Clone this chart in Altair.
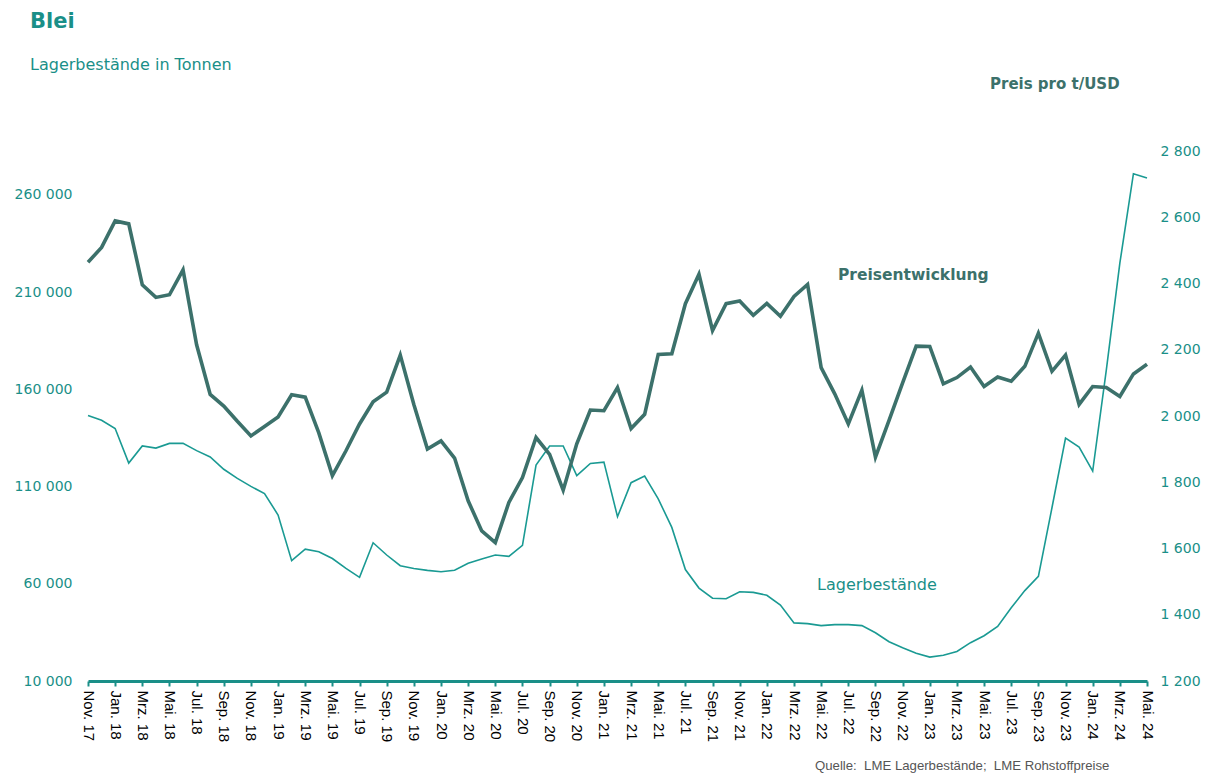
import altair as alt
import pandas as pd

months_de = ["Jan.", "Feb.", "Mrz.", "Apr.", "Mai.", "Jun.", "Jul.", "Aug.", "Sep.", "Okt.", "Nov.", "Dez."]

# Monthly labels Nov. 17 .. Mai. 24
labels = []
y, m = 2017, 11
while (y, m) <= (2024, 5):
    labels.append(f"{months_de[m-1]} {str(y)[2:]}")
    m += 1
    if m > 12:
        m, y = 1, y + 1

price = [2464, 2509, 2589, 2580, 2396, 2358, 2366, 2441, 2215, 2065,
         2030, 1984, 1940, 1968, 1997, 2064, 2057, 1949, 1820, 1895,
         1976, 2043, 2072, 2184, 2035, 1900, 1925, 1873, 1744, 1653,
         1618, 1739, 1814, 1935, 1884, 1776, 1916, 2018, 2016, 2086,
         1962, 2005, 2186, 2188, 2339, 2428, 2258, 2339, 2347, 2304,
         2340, 2301, 2361, 2397, 2146, 2067, 1976, 2078, 1876, 1987,
         2100, 2211, 2210, 2097, 2116, 2148, 2089, 2118, 2105, 2150,
         2250, 2135, 2184, 2035, 2089, 2086, 2059, 2127, 2156]

stocks = [146500, 144100, 139900, 122100, 130900, 129800, 132200, 132200, 128500, 125200,
          118900, 114200, 110100, 106400, 95400, 71900, 77800, 76500, 73000, 67900,
          63300, 81100, 74800, 69300, 67900, 66900, 66200, 67000, 70600, 72800,
          74800, 74100, 79800, 121100, 130900, 130900, 115600, 121900, 122600, 94500,
          112000, 115400, 103700, 89000, 67300, 57800, 52600, 52300, 55900, 55600,
          54100, 49100, 39900, 39500, 38500, 39000, 39000, 38500, 34800, 30200,
          27100, 24300, 22300, 23200, 25200, 29700, 33300, 38100, 47700, 56500,
          63800, 99100, 134900, 130300, 118000, 169800, 224900, 270900, 268700]

left_ticks = [10000, 60000, 110000, 160000, 210000, 260000]
right_ticks = [1200, 1400, 1600, 1800, 2000, 2200, 2400, 2600, 2800]

df = pd.DataFrame({"Monat": labels, "Preis": price, "Lager": stocks})

FONT = "DejaVu Sans"
TEAL = "#1a8f88"
DARK = "#3c716b"
W, H = 1059, 530

x_enc = alt.X("Monat:O", sort=None,
              scale=alt.Scale(type="point", padding=0),
              axis=alt.Axis(values=labels[::2], labelAngle=90, labelAlign="left",
                            labelBaseline="middle", labelFont="Liberation Sans",
                            labelFontSize=15, labelColor="#000000", labelPadding=4,
                            domainColor=TEAL, domainWidth=3, tickColor=TEAL,
                            tickWidth=2, tickSize=5, title=None, grid=False))

stock_line = alt.Chart(df).mark_line(color="#1a9a93", strokeWidth=1.6).encode(
    x=x_enc,
    y=alt.Y("Lager:Q", scale=alt.Scale(domain=[10000, 282600], nice=False, zero=False),
            axis=alt.Axis(orient="left", values=left_ticks,
                          labelExpr="replace(format(datum.value, ',.0f'), ',', ' ')",
                          labelFont=FONT, labelFontSize=14, labelColor=TEAL,
                          labelPadding=16, domain=False, ticks=False, grid=False,
                          title=None)),
)

price_line = alt.Chart(df).mark_line(color=DARK, strokeWidth=3.6).encode(
    x=x_enc,
    y=alt.Y("Preis:Q", scale=alt.Scale(domain=[1200, 2800], nice=False, zero=False),
            axis=alt.Axis(orient="right", values=right_ticks,
                          labelExpr="replace(format(datum.value, ',.0f'), ',', ' ')",
                          labelFont=FONT, labelFontSize=14, labelColor=TEAL,
                          labelPadding=13, domain=False, ticks=False, grid=False,
                          title=None)),
)

def txt(text, x, y, size, color, weight="normal", align="left", font=FONT):
    return alt.Chart(alt.Data(values=[{}])).mark_text(
        text=text, font=font, fontSize=size, color=color, fontWeight=weight,
        align=align, baseline="middle").encode(x=alt.value(x), y=alt.value(y))

annotations = [
    txt("Blei", 30 - 88, 22 - 151, 21, TEAL, "bold"),
    txt("Lagerbestände in Tonnen", 30 - 88, 65 - 151, 16, TEAL),
    txt("Preis pro t/USD", 990 - 88, 84 - 151, 15, DARK, "bold"),
    txt("Preisentwicklung", 838 - 88, 275 - 151, 15.5, DARK, "bold"),
    txt("Lagerbestände", 817 - 88, 585 - 151, 16, TEAL),
    txt("Quelle:\u00a0 LME Lagerbestände;\u00a0 LME Rohstoffpreise", 815 - 88, 766 - 151, 13.2,
        "#555555", font="Liberation Sans"),
]

lines = alt.layer(stock_line, price_line).resolve_scale(y="independent")

chart = alt.layer(lines, *annotations).properties(
    width=W, height=H,
    autosize="none",
    padding={"left": 80, "top": 143, "right": 54, "bottom": 92},
).configure_view(stroke=None)

chart.save("out.html", embed_options={"renderer": "svg", "actions": False})
